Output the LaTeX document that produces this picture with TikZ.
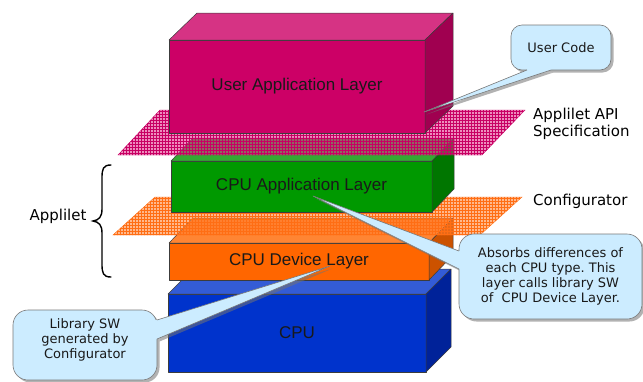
\documentclass[tikz,border=0pt]{standalone}
\usepackage{fontspec}
\setmainfont{Liberation Sans}
\newfontfamily\verd{DejaVu Sans}
\usetikzlibrary{patterns,calc}
\frenchspacing
\pgfdeclarelayer{back}
\pgfdeclarelayer{callbg}
\pgfsetlayers{back,callbg,main}
\definecolor{pkF}{RGB}{204,0,102}
\definecolor{pkT}{RGB}{214,51,132}
\definecolor{pkR}{RGB}{160,0,80}
\definecolor{grF}{RGB}{0,153,0}
\definecolor{grT}{RGB}{51,170,51}
\definecolor{grR}{RGB}{0,118,0}
\definecolor{orF}{RGB}{255,102,0}
\definecolor{orT}{RGB}{255,133,51}
\definecolor{orR}{RGB}{204,82,0}
\definecolor{blF}{RGB}{0,51,204}
\definecolor{blT}{RGB}{51,92,214}
\definecolor{blR}{RGB}{0,34,153}
\definecolor{pkP}{RGB}{222,50,135}
\definecolor{pkG}{RGB}{200,0,100}
\definecolor{orP}{RGB}{255,125,45}
\definecolor{orG}{RGB}{255,110,20}
\definecolor{callF}{RGB}{204,236,255}
\definecolor{callD}{RGB}{120,120,120}
\definecolor{edgec}{RGB}{60,60,60}
\begin{document}
\begin{tikzpicture}[x=1pt,y=-1pt,
  face/.style={draw=edgec, line width=0.5pt, line join=round},
  front/.style={face, anchor=north west, inner sep=0pt, outer sep=0pt,
    font=\fontsize{17}{20}\selectfont, text=black!90},
  plane/.style={fill=#1, fill opacity=0.55},
  planegrid/.style={pattern=grid, pattern color=#1, fill opacity=0.55},
  planeedge/.style={draw=#1, line width=0.4pt},
  calltext/.style={inner sep=0pt, outer sep=0pt, align=center,
    font=\verd\fontsize{13}{15}\selectfont, text=black!90},
  callshadow/.style={fill=black!55, fill opacity=0.55,
    transform canvas={shift={(2.5pt,-2.5pt)}}},
  callbody/.style={fill=callF, draw=callD, line width=0.6pt},
  callfill/.style={fill=callF},
  callline/.style={draw=callD, line width=0.6pt, line join=round},
  sidelabel/.style={inner sep=0pt, anchor=west, align=left,
    font=\verd\fontsize{15}{16.5}\selectfont, text=black}]
\useasboundingbox (0,0) rectangle (643,381);

\begin{pgfonlayer}{back}
% CPU box
\node[front, fill=blF, minimum width=258pt, minimum height=78pt] (cpu) at (168,294) {CPU};
\filldraw[face, fill=blT] (cpu.north west) -- ++(25,-25) -- ++(258,0) -- (cpu.north east) -- cycle;
\filldraw[face, fill=blR] (cpu.north east) -- ++(25,-25) -- ++(0,78) -- (cpu.south east) -- cycle;
% CPU Device Layer box
\node[front, fill=orF, minimum width=260pt, minimum height=37pt] (dev) at (169,243) {CPU Device Layer};
\filldraw[face, fill=orT] (dev.north west) -- ++(24,-25) -- ++(260,0) -- (dev.north east) -- cycle;
\filldraw[face, fill=orR] (dev.north east) -- ++(24,-25) -- ++(0,37) -- (dev.south east) -- cycle;
% Configurator plane
\path[plane=orP] (113,235) -- (155,197) -- (522,197) -- (480,235) -- cycle;
\path[planegrid=orG] (113,235) -- (155,197) -- (522,197) -- (480,235) -- cycle;
\path[planeedge=orG] (113,235) -- (155,197) -- (522,197) -- (480,235) -- cycle;
% CPU Application Layer box
\node[front, fill=grF, minimum width=261pt, minimum height=51pt] (app) at (171,161) {CPU Application Layer};
\filldraw[face, fill=grT] (app.north west) -- ++(22,-23) -- ++(261,0) -- (app.north east) -- cycle;
\filldraw[face, fill=grR] (app.north east) -- ++(22,-23) -- ++(0,51) -- (app.south east) -- cycle;
% Applilet API plane
\path[plane=pkP] (118,155) -- (160,110) -- (525,110) -- (482,155) -- cycle;
\path[planegrid=pkG] (118,155) -- (160,110) -- (525,110) -- (482,155) -- cycle;
\path[planeedge=pkG] (118,155) -- (160,110) -- (525,110) -- (482,155) -- cycle;
% User Application Layer box
\node[front, fill=pkF, minimum width=256pt, minimum height=93pt] (ua) at (169,40) {User Application Layer};
\filldraw[face, fill=pkT] (ua.north west) -- ++(28,-27) -- ++(256,0) -- (ua.north east) -- cycle;
\filldraw[face, fill=pkR] (ua.north east) -- ++(28,-27) -- ++(0,93) -- (ua.south east) -- cycle;
\end{pgfonlayer}

% side labels
\node[sidelabel] (api) at (533,124) {Applilet API\\Specification};
\node[sidelabel, text height=11pt, text depth=3.5pt] (cfg) at (533,202) {Configurator};
\node[inner sep=0pt, font=\verd\fontsize{15}{16.5}\selectfont] (applilet) at (58,216) {Applilet};
\draw[line width=1.4pt, line cap=round] (111,165) .. controls (103,165) and (102,169) .. (102,178)
  -- (102,209) .. controls (102,217) and (99,220) .. (93,221)
  .. controls (99,222) and (102,225) .. (102,233)
  -- (102,264) .. controls (102,273) and (103,277) .. (111,277);

% callout texts
\node[calltext, minimum width=100pt, minimum height=45pt] (uc) at (561,47.5) {User Code};
\node[calltext, minimum width=183pt, minimum height=85pt] (ab) at (550.5,276.5)
  {Absorbs differences of\\each CPU type. This\\layer calls library SW\\of~ CPU Device Layer.};
\node[calltext, minimum width=144pt, minimum height=60pt] (lib) at (85,340)
  {Library SW\\generated by\\Configurator};
\coordinate (tipUA) at (424,112);
\coordinate (tipAPP) at (313,196);
\coordinate (tipDEV) at (330,266);

\begin{pgfonlayer}{callbg}
% User Code
\fill[callshadow, rounded corners=11pt] (uc.north west) rectangle (uc.south east);
\fill[callshadow] ($(uc.south west)+(16,0)$) -- (tipUA) -- ($(uc.south west)+(40,0)$) -- cycle;
\path[callbody, rounded corners=11pt] (uc.north west) rectangle (uc.south east);
\path[callfill] ($(uc.south west)+(16,-4)$) -- ($(uc.south west)+(16,0)$) -- (tipUA)
  -- ($(uc.south west)+(40,0)$) -- ($(uc.south west)+(40,-4)$) -- cycle;
\path[callline] ($(uc.south west)+(16,0)$) -- (tipUA) -- ($(uc.south west)+(40,0)$);
% Absorbs
\fill[callshadow, rounded corners=15pt] (ab.north west) rectangle (ab.south east);
\fill[callshadow] ($(ab.north west)+(0,17)$) -- (tipAPP) -- ($(ab.north west)+(0,35)$) -- cycle;
\path[callbody, rounded corners=15pt] (ab.north west) rectangle (ab.south east);
\path[callfill] ($(ab.north west)+(4,17)$) -- ($(ab.north west)+(0,17)$) -- (tipAPP)
  -- ($(ab.north west)+(0,35)$) -- ($(ab.north west)+(4,35)$) -- cycle;
\path[callline] ($(ab.north west)+(0,17)$) -- (tipAPP) -- ($(ab.north west)+(0,35)$);
% Library SW
\fill[callshadow, rounded corners=15pt] (lib.north west) rectangle ($(lib.south east)+(0,10)$);
\fill[callshadow] ($(lib.north east)+(0,10)$) -- (tipDEV) -- ($(lib.north east)+(0,29)$) -- cycle;
\path[callbody, rounded corners=15pt] (lib.north west) rectangle ($(lib.south east)+(0,10)$);
\path[callfill] ($(lib.north east)+(-4,10)$) -- ($(lib.north east)+(0,10)$) -- (tipDEV)
  -- ($(lib.north east)+(0,29)$) -- ($(lib.north east)+(-4,29)$) -- cycle;
\path[callline] ($(lib.north east)+(0,10)$) -- (tipDEV) -- ($(lib.north east)+(0,29)$);
\end{pgfonlayer}
\end{tikzpicture}
\end{document}
